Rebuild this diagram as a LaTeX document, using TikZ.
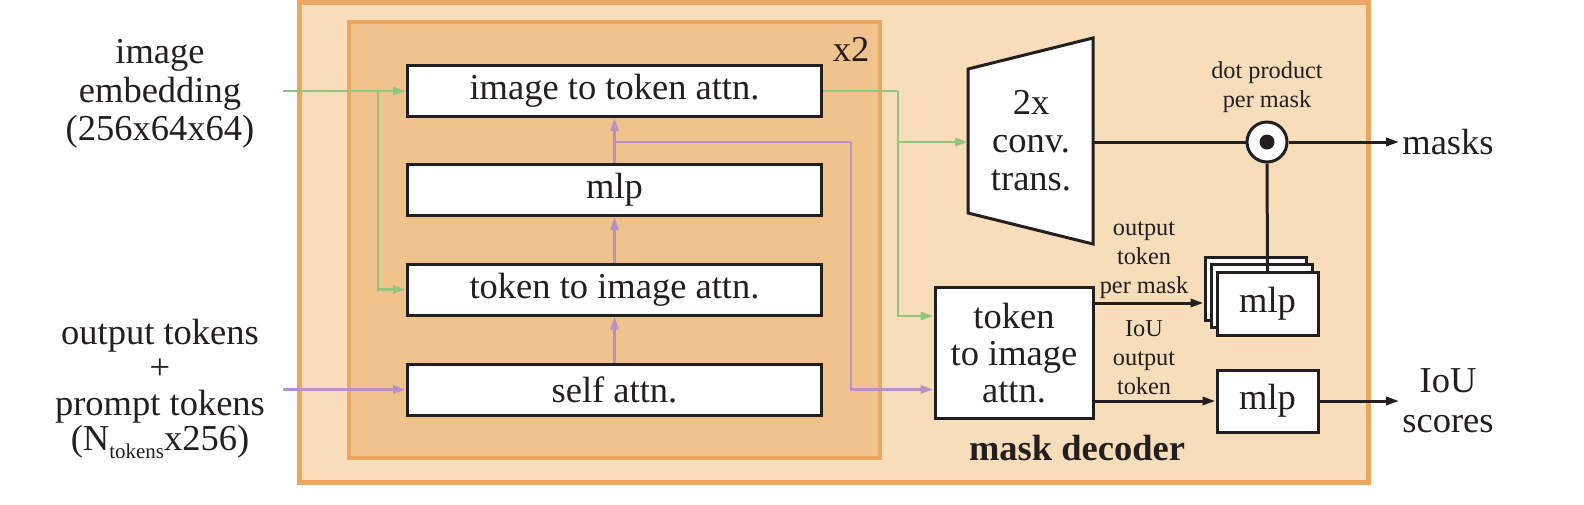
\documentclass[tikz,border=0pt]{standalone}
\usepackage{fontspec}
\setmainfont{Liberation Serif}
\usetikzlibrary{arrows.meta,calc}
\definecolor{outerfill}{HTML}{F7DDB9}
\definecolor{outerline}{HTML}{EBA65F}
\definecolor{innerfill}{HTML}{F0C28C}
\definecolor{gline}{HTML}{92C47D}
\definecolor{pline}{HTML}{B792C8}
\definecolor{ink}{HTML}{231F20}
\newcommand\fbig{\fontsize{36.5}{38}\selectfont}
\newcommand\fsmall{\fontsize{24.3}{29}\selectfont}
\newcommand\fsub{\fontsize{21}{21}\selectfont}
\begin{document}
\begin{tikzpicture}[x=1pt,y=-1pt,
  blk/.style={draw=ink, line width=3pt, fill=white, inner sep=0pt, font=\fbig, text=ink},
  wide/.style={blk, minimum width=414pt, minimum height=51pt},
  sq/.style={blk, minimum width=101pt, minimum height=63pt},
  lbl/.style={font=\fbig, text=ink, align=center, inner sep=3pt},
  slbl/.style={font=\fsmall, text=ink, align=center, inner sep=0pt},
  garrow/.style={draw=gline, line width=2.8pt, -{Triangle[length=13pt,width=8pt]}},
  gline/.style={draw=gline, line width=2.8pt},
  parrow/.style={draw=pline, line width=2.8pt, -{Triangle[length=13pt,width=8pt]}},
  pline/.style={draw=pline, line width=2.8pt},
  karrow/.style={draw=ink, line width=3pt, -{Triangle[length=13pt,width=8pt]}},
  kline/.style={draw=ink, line width=3pt}]
\useasboundingbox (0,0) rectangle (1584,504);
% containers
\draw[outerline, line width=5pt, fill=outerfill] (299,2) rectangle (1368,482);
\draw[outerline, line width=4pt, fill=innerfill] (349,22) rectangle (880,458);
\node[lbl, inner sep=0pt] (rep) at (851,49) {x2};
\node[lbl, inner sep=0pt, font=\fbig\bfseries] (md) at (1077,448) {mask decoder};
% inner blocks
\node[wide] (i2t) at (614.5,91) {image to token attn.};
\node[wide] (mlpa) at (614.5,190) {mlp};
\node[wide] (t2i) at (614.5,289.5) {token to image attn.};
\node[wide] (sa) at (614.5,389.5) {self attn.};
% left inputs
\node[lbl, font=\fontsize{36.5}{38.5}\selectfont] (img) at (160,94) {image\\embedding\\(256x64x64)};
\node[lbl, font=\fontsize{36.5}{35.5}\selectfont] (tok) at (160,389) {output tokens\\+\\prompt tokens\\(N\raisebox{-8pt}{\fsub tokens}x256)};
\coordinate (imgin) at (283,91);
\coordinate (tokin) at (283,389.5);
\coordinate (gb) at (378,91);
\coordinate (pb) at (614.5,142);
\coordinate (pc) at (851,142);
\coordinate (gc) at (898,91);
% right part
\draw[ink, line width=3pt, fill=white, line join=miter] (968,69) -- (1093,38) -- (1093,244) -- (968,213) -- cycle;
\node[lbl, inner sep=0pt] (convtxt) at (1031,141) {2x\\conv.\\trans.};
\coordinate (convL) at (968,142);
\coordinate (convR) at (1093,142);
\node[blk, minimum width=158pt, minimum height=131pt, align=center, font=\fontsize{36.5}{37}\selectfont] (ft) at (1014,353) {token\\to image\\attn.};
\node[draw=ink, line width=3pt, fill=white, circle, minimum size=40pt, inner sep=0pt] (dot) at (1267,142) {};
\fill[ink] (dot.center) circle[radius=7.5];
\node[slbl] (dp) at (1267,87) {dot product\\per mask};
\node[sq] (mlpB) at (1255.5,288.5) {};
\node[sq] (mlpM) at (1261.5,296) {};
\node[sq] (mlpF) at (1267.5,304) {mlp};
\node[sq, minimum height=62pt] (mlpI) at (1267.5,401) {mlp};
\node[slbl] (otl) at (1144,260) {output\\token\\per mask};
\node[slbl] (iol) at (1144,358) {IoU\\output\\token};
\node[lbl] (masks) at (1448,142) {masks};
\node[lbl, font=\fontsize{36.5}{40}\selectfont] (iou) at (1448,401) {IoU\\scores};
% green connectors
\draw[garrow] (imgin) -- (i2t.west);
\draw[garrow] (gb) |- (t2i.west);
\draw[gline] (i2t.east) -- (gc);
\draw[garrow] (gc) |- ([yshift=37pt]ft.west);
\draw[garrow] (gc |- convL) -- (convL);
% purple connectors
\draw[parrow] (tokin) -- (sa.west);
\draw[parrow] (sa.north) -- (t2i.south);
\draw[parrow] (t2i.north) -- (mlpa.south);
\draw[parrow] (mlpa.north) -- (i2t.south);
\draw[pline] (pb) -- (pc);
\draw[parrow] (pc) |- ([yshift=-36.5pt]ft.west);
% black connectors
\draw[kline] (convR) -- (dot.west);
\draw[karrow] (dot.east) -- (masks.west);
\draw[kline] (dot.south) -- (mlpF.north);
\draw[karrow] ([yshift=50pt]ft.east) -- ([yshift=50pt]ft.east -| mlpB.west);
\draw[karrow] (mlpI.west -| ft.east) -- (mlpI.west);
\draw[karrow] (mlpI.east) -- (mlpI.east -| masks.west);
\end{tikzpicture}
\end{document}
